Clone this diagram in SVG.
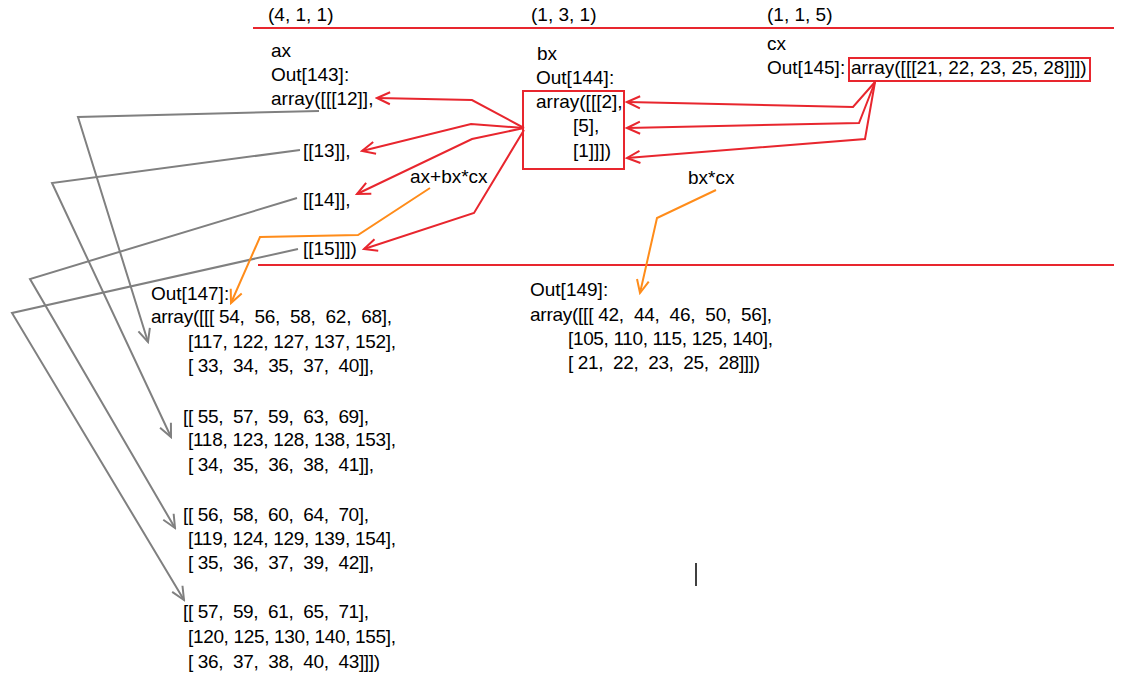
<svg xmlns="http://www.w3.org/2000/svg" width="1141" height="683" viewBox="0 0 1141 683">
<defs>
<style>
text{font-family:"Liberation Sans",Arial,sans-serif;font-size:19px;fill:#000;white-space:pre}
.red{fill:none;stroke:#E8262E;stroke-width:2}
.gray{fill:none;stroke:#808080;stroke-width:2}
.orange{fill:none;stroke:#FF8C1A;stroke-width:2}
.box{fill:none;stroke:#E8262E;stroke-width:2}
</style>
<marker id="mr" viewBox="-14 -8 16 16" refX="0" refY="0" markerWidth="16" markerHeight="16" markerUnits="userSpaceOnUse" orient="auto"><path d="M-13,-6 L0,0 L-13,6" fill="none" stroke="#E8262E" stroke-width="2"/></marker>
<marker id="mg" viewBox="-14 -8 16 16" refX="0" refY="0" markerWidth="16" markerHeight="16" markerUnits="userSpaceOnUse" orient="auto"><path d="M-13,-6 L0,0 L-13,6" fill="none" stroke="#808080" stroke-width="2"/></marker>
<marker id="mo" viewBox="-14 -8 16 16" refX="0" refY="0" markerWidth="16" markerHeight="16" markerUnits="userSpaceOnUse" orient="auto"><path d="M-13,-6 L0,0 L-13,6" fill="none" stroke="#FF8C1A" stroke-width="2"/></marker>
</defs>
<rect width="1141" height="683" fill="#fff"/>

<g id="dividers">
<path class="red" d="M253,28 H1114"/>
<path class="red" d="M258,265 H1114"/>
</g>

<g id="shapes">
<text x="268" y="21">(4, 1, 1)</text>
<text x="531" y="21">(1, 3, 1)</text>
<text x="767" y="21">(1, 1, 5)</text>
</g>

<g id="ax">
<text x="271" y="57">ax</text>
<text x="271" y="81">Out[143]:</text>
<text x="271" y="105">array([[[12]],</text>
<text x="303" y="157">[[13]],</text>
<text x="303" y="206">[[14]],</text>
<text x="303" y="255">[[15]]])</text>
</g>

<g id="bx">
<text x="537" y="60">bx</text>
<text x="536" y="84">Out[144]:</text>
<rect class="box" x="523" y="91" width="101" height="78"/>
<text x="536" y="108">array([[[2],</text>
<text x="573" y="132">[5],</text>
<text x="573" y="157">[1]]])</text>
</g>

<g id="cx">
<text x="767" y="50">cx</text>
<text x="767" y="74">Out[145]:</text>
<rect class="box" x="849" y="58" width="241" height="23"/>
<text x="851" y="74">array([[[21, 22, 23, 25, 28]]])</text>
</g>

<g id="label-axbxcx">
<text x="410" y="183">ax+bx*cx</text>
</g>
<g id="label-bxcx">
<text x="688" y="184">bx*cx</text>
</g>

<g id="out147">
<text x="151" y="300">Out[147]:</text>
<text x="151" y="323" textLength="241" lengthAdjust="spacing" xml:space="preserve">array([[[ 54,  56,  58,  62,  68],</text>
<text x="188" y="348" textLength="208" lengthAdjust="spacing" xml:space="preserve">[117, 122, 127, 137, 152],</text>
<text x="188" y="372" textLength="186" lengthAdjust="spacing" xml:space="preserve">[ 33,  34,  35,  37,  40]],</text>
<text x="183" y="423" textLength="186" lengthAdjust="spacing" xml:space="preserve">[[ 55,  57,  59,  63,  69],</text>
<text x="188" y="446" textLength="208" lengthAdjust="spacing" xml:space="preserve">[118, 123, 128, 138, 153],</text>
<text x="188" y="471" textLength="186" lengthAdjust="spacing" xml:space="preserve">[ 34,  35,  36,  38,  41]],</text>
<text x="183" y="521" textLength="186" lengthAdjust="spacing" xml:space="preserve">[[ 56,  58,  60,  64,  70],</text>
<text x="188" y="545" textLength="208" lengthAdjust="spacing" xml:space="preserve">[119, 124, 129, 139, 154],</text>
<text x="188" y="569" textLength="186" lengthAdjust="spacing" xml:space="preserve">[ 35,  36,  37,  39,  42]],</text>
<text x="183" y="618" textLength="186" lengthAdjust="spacing" xml:space="preserve">[[ 57,  59,  61,  65,  71],</text>
<text x="188" y="643" textLength="208" lengthAdjust="spacing" xml:space="preserve">[120, 125, 130, 140, 155],</text>
<text x="188" y="668" textLength="192" lengthAdjust="spacing" xml:space="preserve">[ 36,  37,  38,  40,  43]]])</text>
</g>

<g id="out149">
<text x="530" y="296">Out[149]:</text>
<text x="530" y="321" textLength="242" lengthAdjust="spacing" xml:space="preserve">array([[[ 42,  44,  46,  50,  56],</text>
<text x="568" y="345" textLength="205" lengthAdjust="spacing" xml:space="preserve">[105, 110, 115, 125, 140],</text>
<text x="568" y="369" textLength="192" lengthAdjust="spacing" xml:space="preserve">[ 21,  22,  23,  25,  28]]])</text>
</g>

<g id="connectors">
<path class="red" marker-end="url(#mr)" d="M524,128 L472,100 L377,98"/>
<path class="red" marker-end="url(#mr)" d="M524,128 L471,124 L362,151"/>
<path class="red" marker-end="url(#mr)" d="M524,128 L472,139 L357,194"/>
<path class="red" marker-end="url(#mr)" d="M524,130 L474,213 L364,249"/>
<path class="red" marker-end="url(#mr)" d="M875,82 L853,107 L627,102"/>
<path class="red" marker-end="url(#mr)" d="M875,82 L859,123 L627,128"/>
<path class="red" marker-end="url(#mr)" d="M875,82 L865,139 L627,158"/>
<path class="gray" marker-end="url(#mg)" d="M319,111 L78,117 L148,342"/>
<path class="gray" marker-end="url(#mg)" d="M300,150 L52,183 L171,437"/>
<path class="gray" marker-end="url(#mg)" d="M297,198 L30,279 L175,528"/>
<path class="gray" marker-end="url(#mg)" d="M298,249 L12,313 L184,600"/>
<path class="orange" marker-end="url(#mo)" d="M430,188 L358,235 L260,237 L231,303"/>
<path class="orange" marker-end="url(#mo)" d="M716,190 L657,218 L640,293"/>
</g>

<g id="cursor">
<path d="M696,563 V586" stroke="#000" stroke-width="1.5" fill="none"/>
</g>
</svg>
